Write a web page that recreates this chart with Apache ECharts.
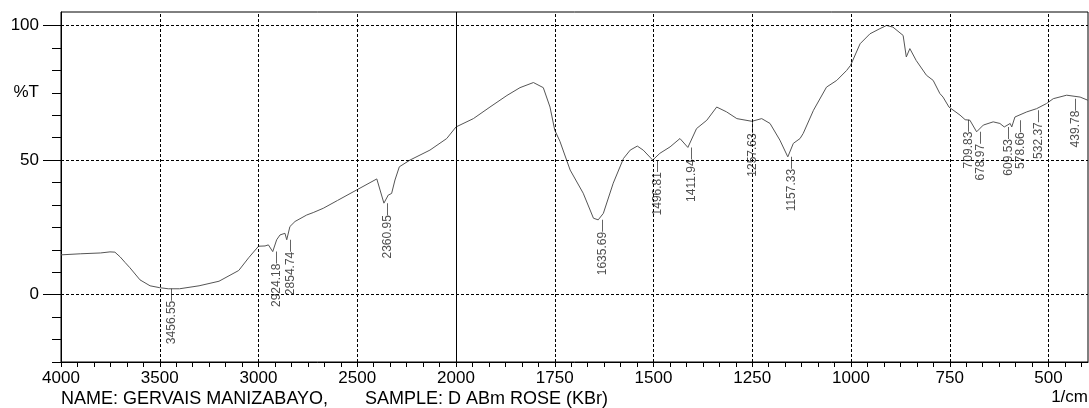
<!DOCTYPE html>
<html lang="en">
<head>
<meta charset="utf-8">
<title>IR spectrum - D ABm ROSE (KBr)</title>
<script src="https://cdn.jsdelivr.net/npm/echarts@6/dist/echarts.min.js"></script>
<style>
html, body { margin: 0; padding: 0; background: #fff; }
#main { width: 1089px; height: 408px; }
</style>
</head>
<body>
<div id="main"></div>
<script>
// trace: wavenumber (1/cm) and %T
var waveNums = [4000, 3900, 3800, 3752, 3727, 3700, 3676, 3651, 3600, 3549,
	3500, 3457, 3400, 3301, 3200, 3100, 3050, 3000, 2967, 2950,
	2928, 2908, 2891, 2866, 2857, 2841, 2815, 2756, 2723, 2672,
	2600, 2503, 2401, 2393, 2365, 2343, 2326, 2309, 2287, 2233,
	2132, 2047, 2000, 1956, 1914, 1871, 1838, 1804, 1779, 1762,
	1750, 1737, 1711, 1678, 1652, 1640, 1627, 1602, 1576, 1559,
	1541, 1526, 1502, 1484, 1458, 1433, 1413, 1391, 1365, 1340,
	1315, 1289, 1251, 1226, 1205, 1180, 1160, 1146, 1129, 1121,
	1095, 1062, 1036, 1011, 1001, 977, 952, 927, 910, 894,
	868, 860, 851, 835, 809, 792, 775, 767, 752, 724,
	711, 699, 682, 665, 640, 623, 612, 597, 593, 585,
	555, 530, 505, 488, 454, 420, 400];
var transmit = [14.8, 15.2, 15.5, 15.9, 15.8, 14, 12, 10, 5.5, 3.3,
	2.6, 2.2, 2.2, 3.3, 5, 9, 13.7, 18, 18.1, 18.5,
	16, 20.4, 22.2, 22.8, 20.4, 25.3, 27.2, 29.6, 30.5, 32.1,
	35, 38.9, 43, 43.2, 34, 37, 37.6, 42.6, 47.5, 50,
	53.7, 58, 62.3, 65.4, 69.7, 74, 76.9, 78.8, 76.9, 69.7,
	61.1, 57, 46.3, 37.7, 28.4, 27.8, 30.2, 41.4, 50.6, 53.7,
	55.2, 53.7, 50, 52.5, 54.9, 58, 54.7, 61.7, 64.8, 69.7,
	67.9, 65.4, 64.4, 65.4, 63.6, 57.4, 51.2, 56.2, 58, 59.9,
	68.5, 77.1, 79.6, 83.3, 85.2, 93.2, 96.9, 98.8, 100, 99.4,
	96.3, 88.3, 91.4, 87, 81.5, 79.6, 74.7, 73.4, 69.7, 66.7,
	65, 64.8, 60.5, 63, 64.2, 63.6, 62.3, 63.6, 62.3, 66,
	67.9, 69.1, 71, 72.8, 74.1, 73.4, 72.2];

// picked peaks
var peakWave = [3456.55, 2924.18, 2854.74, 2360.95, 1635.69, 1496.81, 1411.94, 1257.63,
	1157.33, 709.83, 678.97, 609.53, 578.66, 532.37, 439.78];
var peakT = [2.2, 16, 20.4, 34, 27.8, 50, 54.7, 64.4,
	51.2, 65, 60.5, 62.3, 64.8, 68.5, 72.8];

var xLabelWave = [4000, 3500, 3000, 2500, 2000, 1750, 1500, 1250, 1000, 750, 500];
var xGridWave = [3500, 3000, 2500, 1750, 1500, 1250, 1000, 750, 500];
var yLabelVals = [0, 50, 100];
var yUnitAt = 75;

// scale is compressed 2:1 above 2000 1/cm, so plot against u
function toU(w) { return w >= 2000 ? (4000 - w) / 2 : 1000 + (2000 - w); }
function toW(u) { return u <= 1000 ? 4000 - 2 * u : 2000 - (u - 1000); }

var xTicks = [];
for (var k = 0; k * 125 / 3 <= 2600; k++) xTicks.push(k * 125 / 3);
var yTicks = [];
for (var k = 0; -25 + k * 25 / 3 <= 100.01; k++) yTicks.push(-25 + k * 25 / 3);

var lineData = [];
for (var i = 0; i < waveNums.length; i++) lineData.push([toU(waveNums[i]), transmit[i]]);
var peakData = [];
for (var i = 0; i < peakWave.length; i++) peakData.push([toU(peakWave[i]), peakT[i], peakWave[i]]);

var gridLines = [];
for (var i = 0; i < xGridWave.length; i++) gridLines.push({ xAxis: toU(xGridWave[i]) });
for (var i = 0; i < yLabelVals.length; i++) gridLines.push({ yAxis: yLabelVals[i] });
gridLines.push({ xAxis: toU(2000), lineStyle: { type: 'solid' } });

var font = '"Liberation Sans", Arial, sans-serif';
var myChart = echarts.init(document.getElementById('main'));
var option = {
	animation: false,
	backgroundColor: '#fff',
	textStyle: { fontFamily: font },
	grid: { left: 61, right: 1, top: 12, bottom: 46, show: true, borderColor: '#000', borderWidth: 1 },
	xAxis: {
		type: 'value', min: 0, max: 2600,
		axisLine: { onZero: false, lineStyle: { color: '#000', width: 1 } },
		axisTick: { customValues: xTicks, length: 5, lineStyle: { color: '#000' } },
		axisLabel: {
			customValues: xLabelWave.map(toU), margin: 8, color: '#000', fontSize: 17,
			formatter: function (v) { return String(Math.round(toW(v))); }
		},
		splitLine: { show: false }
	},
	yAxis: [{
		type: 'value', min: -25, max: 105,
		axisLine: { show: true, onZero: false, lineStyle: { color: '#000', width: 1 } },
		axisTick: { customValues: yTicks, length: 9, lineStyle: { color: '#000' } },
		axisLabel: { show: false },
		splitLine: { show: false }
	}, {
		type: 'value', min: -25, max: 105, position: 'left',
		axisLine: { show: false, onZero: false },
		axisTick: { customValues: yLabelVals, length: 18, lineStyle: { color: '#000' } },
		axisLabel: {
			customValues: yLabelVals.concat([yUnitAt]), margin: 22, color: '#000', fontSize: 17,
			formatter: function (v) { return v === yUnitAt ? '%T' : String(v); }
		},
		splitLine: { show: false }
	}],
	series: [{
		type: 'line',
		data: lineData,
		showSymbol: false,
		lineStyle: { color: '#555', width: 1 },
		z: 3,
		markLine: {
			silent: true,
			symbol: ['none', 'none'],
			label: { show: false },
			lineStyle: { color: '#000', width: 1, type: [3, 2] },
			data: gridLines
		}
	}, {
		type: 'scatter',
		data: peakData,
		symbolSize: 0,
		z: 4,
		label: {
			show: true, position: 'inside', rotate: 90, align: 'right', verticalAlign: 'middle',
			offset: [0, 3], color: '#222', fontSize: 12,
			formatter: function (p) { return p.data[2].toFixed(2) + '\u2014'; }
		}
	}],
	graphic: [{
		type: 'text', left: 61, top: 390,
		style: { text: 'NAME: GERVAIS MANIZABAYO,', fill: '#000', font: '18px ' + font }
	}, {
		type: 'text', left: 365, top: 390,
		style: { text: 'SAMPLE: D ABm ROSE (KBr)', fill: '#000', font: '18px ' + font }
	}, {
		type: 'text', right: 1, top: 389,
		style: { text: '1/cm', fill: '#000', font: '17px ' + font }
	}]
};
myChart.setOption(option);
</script>
</body>
</html>
